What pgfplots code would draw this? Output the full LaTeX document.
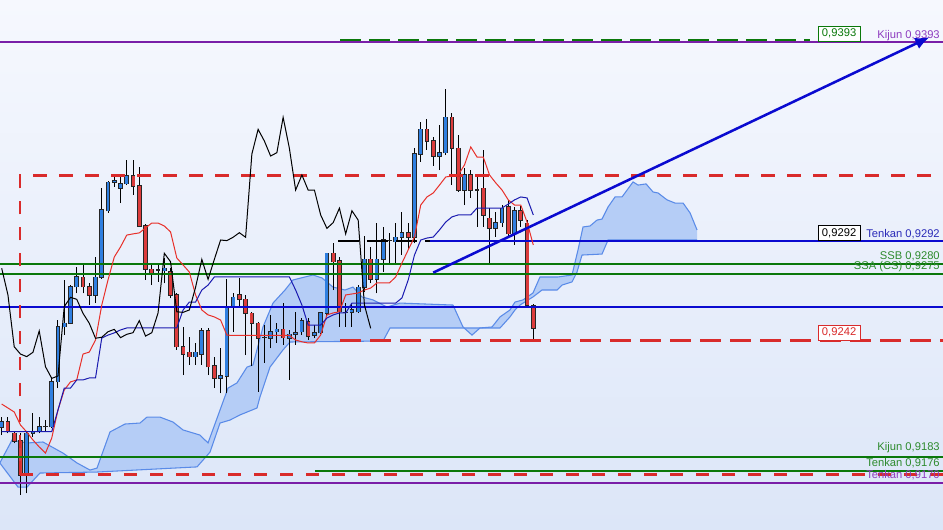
\documentclass[border=0pt]{standalone}
\usepackage{fontspec}
\setmainfont{Liberation Sans}
\usepackage{pgfplots}
\pgfplotsset{compat=1.18}
\usepackage{pgfplotstable}
\usetikzlibrary{arrows.meta}

\definecolor{bgtop}{HTML}{F6F8FE}
\definecolor{bgbot}{HTML}{DCE6F8}
\definecolor{cup}{HTML}{2F7FE0}
\definecolor{cdn}{HTML}{DC3C3C}
\definecolor{cloudfill}{HTML}{B5CDF6}
\definecolor{cloudedge}{HTML}{5A8BE8}
\definecolor{tenkanred}{HTML}{E8302A}
\definecolor{kijunblue}{HTML}{1A1AB0}
\definecolor{lblue}{HTML}{0A0AD0}
\definecolor{lgreen}{HTML}{0A780A}
\definecolor{lpurple}{HTML}{7A1FA8}
\definecolor{ldash}{HTML}{D92B2B}
\definecolor{tgreen}{HTML}{2E8B2E}
\definecolor{tpurple}{HTML}{8E3CC0}
\definecolor{tblue}{HTML}{2A2AB8}
\newcommand{\lbl}{\fontsize{8.4}{9}\selectfont}

\pgfplotstableread{
i o h l c
0 9198.0 9203.4 9194.1 9200.9
1 9200.9 9203.4 9195.0 9195.8
2 9195.0 9195.8 9189.9 9191.1
3 9191.1 9195.2 9163.8 9173.9
4 9173.9 9195.8 9164.6 9195.0
5 9195.0 9205.1 9193.3 9195.8
6 9195.8 9203.4 9195.0 9198.3
7 9198.3 9201.7 9195.8 9198.3
8 9198.3 9223.6 9197.5 9221.1
9 9221.1 9252.3 9217.8 9248.9
10 9248.9 9272.6 9244.7 9250.7
11 9250.7 9270.0 9250.3 9269.2
12 9269.2 9279.3 9265.8 9274.2
13 9273.9 9280.7 9265.8 9269.2
14 9269.2 9271.1 9259.9 9265.0
15 9264.8 9284.1 9260.9 9273.9
16 9273.9 9319.0 9273.3 9308.0
17 9307.6 9322.7 9306.6 9322.0
18 9322.0 9324.8 9319.8 9322.8
19 9319.0 9324.8 9311.5 9321.2
20 9321.2 9333.3 9320.6 9325.2
21 9325.2 9333.3 9315.6 9320.1
22 9320.1 9329.9 9299.6 9299.9
23 9299.9 9300.9 9272.6 9278.0
24 9278.0 9281.2 9270.0 9276.0
25 9277.6 9280.2 9271.7 9277.6
26 9277.3 9283.6 9270.9 9278.5
27 9276.8 9278.5 9263.3 9265.0
28 9265.0 9266.0 9237.2 9238.8
29 9238.8 9248.9 9224.5 9235.1
30 9236.0 9243.9 9229.6 9233.8
31 9233.8 9240.7 9229.6 9236.0
32 9235.1 9248.3 9229.6 9246.8
33 9246.8 9248.3 9224.5 9228.7
34 9229.1 9233.8 9217.8 9222.8
35 9222.8 9238.2 9215.2 9224.0
36 9224.0 9272.9 9215.2 9259.1
37 9259.1 9265.8 9246.4 9263.8
38 9265.0 9273.7 9259.1 9262.8
39 9262.8 9265.0 9234.6 9255.7
40 9255.7 9256.5 9229.1 9250.7
41 9250.7 9251.5 9216.1 9243.1
42 9243.6 9249.8 9230.6 9243.6
43 9243.1 9254.9 9238.0 9246.4
44 9246.4 9250.8 9240.7 9247.6
45 9247.6 9260.8 9239.7 9243.4
46 9243.1 9247.3 9222.0 9245.1
47 9245.1 9256.4 9239.7 9245.9
48 9246.4 9253.3 9244.7 9252.0
49 9251.5 9253.3 9242.2 9244.2
50 9244.7 9249.8 9243.2 9245.9
51 9245.9 9255.9 9245.5 9255.9
52 9255.9 9286.2 9254.0 9286.1
53 9286.1 9291.4 9267.5 9281.8
54 9282.2 9284.4 9248.9 9256.5
55 9256.2 9260.8 9248.9 9256.2
56 9256.2 9260.8 9248.9 9257.4
57 9256.5 9270.0 9255.9 9268.9
58 9268.9 9294.8 9266.6 9283.0
59 9283.0 9289.4 9270.9 9272.9
60 9272.9 9301.6 9265.8 9283.0
61 9283.0 9299.5 9276.8 9292.8
62 9292.5 9296.5 9281.0 9292.5
63 9292.0 9301.6 9281.0 9294.2
64 9294.2 9307.1 9285.2 9296.5
65 9296.5 9301.3 9287.8 9294.2
66 9294.2 9339.2 9291.1 9336.3
67 9336.3 9352.7 9332.4 9348.8
68 9348.8 9353.9 9338.4 9342.9
69 9342.9 9345.1 9330.3 9335.3
70 9335.3 9351.0 9328.2 9337.0
71 9337.0 9369.1 9335.8 9354.9
72 9354.9 9356.9 9320.6 9339.2
73 9339.2 9345.9 9317.1 9318.1
74 9318.1 9329.1 9310.5 9325.7
75 9325.7 9328.2 9314.1 9318.1
76 9318.1 9324.8 9299.5 9318.1
77 9319.0 9338.4 9299.5 9305.5
78 9303.8 9308.9 9281.0 9298.7
79 9298.7 9307.0 9294.5 9301.6
80 9301.6 9310.5 9299.5 9308.9
81 9309.7 9313.1 9294.8 9295.9
82 9295.9 9309.7 9290.3 9307.6
83 9307.6 9310.0 9299.5 9302.9
84 9301.3 9302.9 9259.1 9259.9
85 9259.4 9260.4 9242.0 9248.1
}\candles

\pgfplotstableread{
i t k
0 9209.8 9195.8
1 9207.8 9195.8
2 9205.8 9195.8
3 9199.2 9195.8
4 9195.7 9195.8
5 9191.6 9195.8
6 9188.1 9195.8
7 9185.0 9195.8
8 9192.6 9195.8
9 9206.8 9206.8
10 9216.9 9217.9
11 9221.0 9217.9
12 9222.0 9222.0
13 9235.1 9222.0
14 9236.1 9223.0
15 9242.2 9223.0
16 9259.9 9243.2
17 9272.6 9244.7
18 9284.2 9245.8
19 9289.3 9247.3
20 9295.3 9248.3
21 9295.9 9248.3
22 9296.4 9248.3
23 9298.9 9248.3
24 9301.4 9248.3
25 9301.4 9248.3
26 9299.9 9248.3
27 9296.9 9248.3
28 9283.7 9248.3
29 9280.2 9257.4
30 9276.6 9261.4
31 9265.0 9261.4
32 9257.4 9267.5
33 9254.9 9270.0
34 9253.9 9274.1
35 9252.3 9274.1
36 9244.7 9274.1
37 9244.5 9274.1
38 9244.5 9274.1
39 9244.5 9274.1
40 9244.5 9274.1
41 9244.5 9274.1
42 9244.5 9274.1
43 9244.5 9274.1
44 9244.5 9274.1
45 9244.5 9274.1
46 9244.5 9274.1
47 9242.2 9267.5
48 9241.3 9259.9
49 9240.7 9249.8
50 9240.7 9249.8
51 9244.7 9249.8
52 9254.9 9253.3
53 9255.9 9254.9
54 9256.5 9255.9
55 9265.0 9255.9
56 9265.5 9260.9
57 9266.0 9260.9
58 9267.5 9260.9
59 9268.5 9260.9
60 9271.1 9260.9
61 9271.1 9260.9
62 9271.1 9260.9
63 9274.1 9260.9
64 9281.2 9263.5
65 9287.8 9272.6
66 9294.3 9285.2
67 9310.5 9292.8
68 9314.6 9293.8
69 9316.6 9294.3
70 9320.6 9297.9
71 9324.7 9301.9
72 9325.2 9304.5
73 9325.7 9305.5
74 9330.8 9305.5
75 9339.9 9305.5
76 9334.8 9309.0
77 9334.8 9309.0
78 9325.7 9309.0
79 9321.7 9309.0
80 9318.1 9309.0
81 9313.1 9311.0
82 9310.5 9313.1
83 9310.5 9314.6
84 9301.9 9314.1
85 9290.3 9305.5
}\lines

\begin{document}
\begin{tikzpicture}
\begin{axis}[
  width=707.25pt, height=396.75pt, scale only axis,
  xmin=-0.272, xmax=150.51, ymin=9146.58, ymax=9414.25,
  axis line style={draw=none}, ticks=none,
  axis background/.style={top color=bgtop, bottom color=bgbot},
  clip=true,
]
% cloud
\addplot[fill=cloudfill, draw=none] coordinates {
(-0.3,9180.0) (1.65,9191.6) (4.05,9190.1) (6.6,9190.6) (9.8,9185.0) (12.04,9180.0) (14.12,9176.4) (15.24,9177.4) (17.32,9195.7) (19.72,9199.7) (22.11,9200.2) (23.23,9203.2) (25.31,9203.2) (27.39,9200.7) (28.99,9196.7) (31.71,9194.1) (32.99,9190.1) (34.91,9206.8) (36.19,9217.9) (37.62,9220.5) (39.22,9228.5) (40.18,9229.6) (41.78,9248.8) (43.38,9260.9) (45.3,9267.5) (46.58,9272.6) (49.78,9275.1) (51.21,9273.6) (52.97,9269.0) (54.89,9267.5) (56.17,9269.0) (57.61,9264.0) (59.37,9262.5) (61.61,9258.9) (63.69,9260.9) (72.16,9259.9) (73.76,9248.8) (75.2,9244.7) (76.48,9248.3) (78.4,9248.8) (79.68,9253.9) (81.27,9257.4) (82.07,9261.4) (83.36,9262.5) (84.95,9266.0) (86.07,9274.1) (88.95,9274.1) (91.19,9275.1) (92.15,9287.8) (92.95,9299.4) (94.07,9299.9) (95.19,9302.9) (95.99,9303.4) (96.95,9309.5) (98.07,9314.6) (99.19,9314.6) (100.95,9322.2) (101.75,9320.6) (103.03,9321.2) (104.15,9317.1) (104.95,9316.6) (106.39,9313.1) (107.67,9311.5) (108.95,9311.5) (110.07,9306.5) (111.18,9297.9)
(111.18,9292.8) (96.95,9292.8) (95.99,9285.7) (92.79,9285.2) (91.99,9276.6) (91.19,9271.6) (89.59,9270.0) (88.79,9267.5) (86.39,9267.5) (84.95,9264.0) (82.87,9259.9) (82.07,9257.4) (81.27,9253.9) (79.68,9248.3) (73.76,9248.3) (62.09,9248.3) (60.97,9241.7) (46.1,9241.2) (44.98,9237.2) (42.9,9228.5) (41.3,9213.4) (40.82,9207.8) (38.1,9204.3) (36.5,9201.7) (34.91,9200.2) (33.31,9185.5) (31.23,9178.0) (15.24,9175.4) (6.12,9174.9) (4.05,9167.8) (2.61,9167.8) (-0.3,9180.0)
};
\addplot[cloudedge, line width=0.8pt] coordinates {
(-0.3,9180.0) (1.65,9191.6) (4.05,9190.1) (6.6,9190.6) (9.8,9185.0) (12.04,9180.0) (14.12,9176.4) (15.24,9177.4) (17.32,9195.7) (19.72,9199.7) (22.11,9200.2) (23.23,9203.2) (25.31,9203.2) (27.39,9200.7) (28.99,9196.7) (31.71,9194.1) (32.99,9190.1) (34.91,9206.8) (36.19,9217.9) (37.62,9220.5) (39.22,9228.5) (40.18,9229.6) (41.78,9248.8) (43.38,9260.9) (45.3,9267.5) (46.58,9272.6) (49.78,9275.1) (51.21,9273.6) (52.97,9269.0) (54.89,9267.5) (56.17,9269.0) (57.61,9264.0) (59.37,9262.5) (61.61,9258.9) (63.69,9260.9) (72.16,9259.9) (73.76,9248.8) (75.2,9244.7) (76.48,9248.3) (78.4,9248.8) (79.68,9253.9) (81.27,9257.4) (82.07,9261.4) (83.36,9262.5) (84.95,9266.0) (86.07,9274.1) (88.95,9274.1) (91.19,9275.1) (92.15,9287.8) (92.95,9299.4) (94.07,9299.9) (95.19,9302.9) (95.99,9303.4) (96.95,9309.5) (98.07,9314.6) (99.19,9314.6) (100.95,9322.2) (101.75,9320.6) (103.03,9321.2) (104.15,9317.1) (104.95,9316.6) (106.39,9313.1) (107.67,9311.5) (108.95,9311.5) (110.07,9306.5) (111.18,9297.9)
};
\addplot[cloudedge, line width=0.8pt] coordinates {
(-0.3,9180.0) (2.61,9167.8) (4.05,9167.8) (6.12,9174.9) (15.24,9175.4) (31.23,9178.0) (33.31,9185.5) (34.91,9200.2) (36.5,9201.7) (38.1,9204.3) (40.82,9207.8) (41.3,9213.4) (42.9,9228.5) (44.98,9237.2) (46.1,9241.2) (60.97,9241.7) (62.09,9248.3) (73.76,9248.3) (79.68,9248.3) (81.27,9253.9) (82.07,9257.4) (82.87,9259.9) (84.95,9264.0) (86.39,9267.5) (88.79,9267.5) (89.59,9270.0) (91.19,9271.6) (91.99,9276.6) (92.79,9285.2) (95.99,9285.7) (96.95,9292.8) (111.18,9292.8)
};

% candles: wicks
\addplot[draw=none, mark=none, error bars/.cd, y dir=plus, y explicit, error mark=none,
  error bar style={draw=black, line width=0.75pt}]
  table[x=i, y=l, y error plus expr=\thisrow{h}-\thisrow{l}] {\candles};
% body outlines
\addplot[draw=none, mark=none, error bars/.cd, y dir=plus, y explicit, error mark=none,
  error bar style={draw=black!85, line width=3.5pt}]
  table[x=i, y expr={min(\thisrow{o},\thisrow{c})-0.3}, y error plus expr={abs(\thisrow{c}-\thisrow{o})+0.6}] {\candles};
% up bodies
\addplot[draw=none, mark=none, error bars/.cd, y dir=plus, y explicit, error mark=none,
  error bar style={draw=cup, line width=2.2pt}]
  table[x=i, y=o, y error plus expr={max(\thisrow{c}-\thisrow{o},0)}] {\candles};
% down bodies
\addplot[draw=none, mark=none, error bars/.cd, y dir=plus, y explicit, error mark=none,
  error bar style={draw=cdn, line width=2.2pt}]
  table[x=i, y=c, y error plus expr={max(\thisrow{o}-\thisrow{c},0)}] {\candles};

% horizontal lines
\addplot[lpurple, line width=1.5pt] coordinates {(-1,9393.0) (151,9393.0)};
\addplot[lpurple, line width=1.5pt] coordinates {(-1,9170.0) (151,9170.0)};
\addplot[lgreen, line width=1.5pt] coordinates {(-1,9280.5) (151,9280.5)};
\addplot[lgreen, line width=1.5pt] coordinates {(-1,9275.5) (151,9275.5)};
\addplot[lgreen, line width=1.5pt] coordinates {(-1,9183.2) (151,9183.2)};
\addplot[lgreen, line width=1.5pt] coordinates {(50.1,9176.0) (151,9176.0)};
\addplot[lblue, line width=1.5pt] coordinates {(-1,9259.1) (151,9259.1)};
\addplot[lblue, line width=1.5pt] coordinates {(68.5,9292.5) (151,9292.5)};
\addplot[black, line width=1.5pt, dash pattern=on 15.75pt off 6pt] coordinates {(53.8,9292.5) (68.5,9292.5)};
\addplot[lgreen, line width=1.5pt, dash pattern=on 15.75pt off 6pt] coordinates {(54.1,9394.2) (129.3,9394.2)};
% red dashed
\addplot[ldash, line width=2pt, dash pattern=on 10pt off 9.5pt] coordinates {(2.93,9174.2) (2.93,9325.3) (151,9325.3)};
\addplot[ldash, line width=2pt, dash pattern=on 10pt off 9.5pt] coordinates {(2.93,9174.2) (151,9174.2)};
\addplot[ldash, line width=2pt, dash pattern=on 15.5pt off 7pt] coordinates {(54.1,9242.0) (151,9242.0)};

% ichimoku lines
\addplot[tenkanred, line width=0.75pt] table[x=i, y=t] {\lines};
\addplot[kijunblue, line width=0.75pt] table[x=i, y=k] {\lines};
\addplot[black, line width=0.75pt, restrict x to domain=0:200] table[x expr=\thisrow{i}-26, y=c] {\candles};

% trend line
\addplot[lblue, line width=1.9pt, -{Latex[length=11pt,width=9pt]}] coordinates {(69.0,9276.3) (148.4,9395.5)};

% labels
\node[draw=lgreen, fill=white, text=lgreen, font=\lbl, minimum width=31.5pt, minimum height=11.25pt, inner sep=0pt, line width=0.6pt] at (133.9,9397.3) {0,9393};
\node[draw=black, fill=white, text=black, font=\lbl, minimum width=31.5pt, minimum height=11.25pt, inner sep=0pt, line width=0.6pt] at (133.9,9296.4) {0,9292};
\node[draw=ldash, fill=white, text=ldash, font=\lbl, minimum width=31.5pt, minimum height=11.25pt, inner sep=0pt, line width=0.6pt] at (133.9,9246.0) {0,9242};
\node[anchor=east, text=tpurple, font=\lbl, inner sep=0pt] at (150.03,9396.0) {Kijun 0,9393};
\node[anchor=east, text=tblue, font=\lbl, inner sep=0pt] at (150.03,9295.8) {Tenkan 0,9292};
\node[anchor=east, text=tgreen, font=\lbl, inner sep=0pt] at (150.03,9284.7) {SSB 0,9280};
\node[anchor=east, text=tgreen, font=\lbl, inner sep=0pt] at (150.03,9279.6) {SSA (CS) 0,9275};
\node[anchor=east, text=tgreen, font=\lbl, inner sep=0pt] at (150.03,9187.6) {Kijun 0,9183};
\node[anchor=east, text=tgreen, font=\lbl, inner sep=0pt] at (150.03,9180.0) {Tenkan 0,9176};
\node[anchor=east, text=tpurple, font=\lbl, inner sep=0pt] at (150.03,9173.9) {Tenkan 0,9170};
\end{axis}
\end{tikzpicture}
\end{document}
